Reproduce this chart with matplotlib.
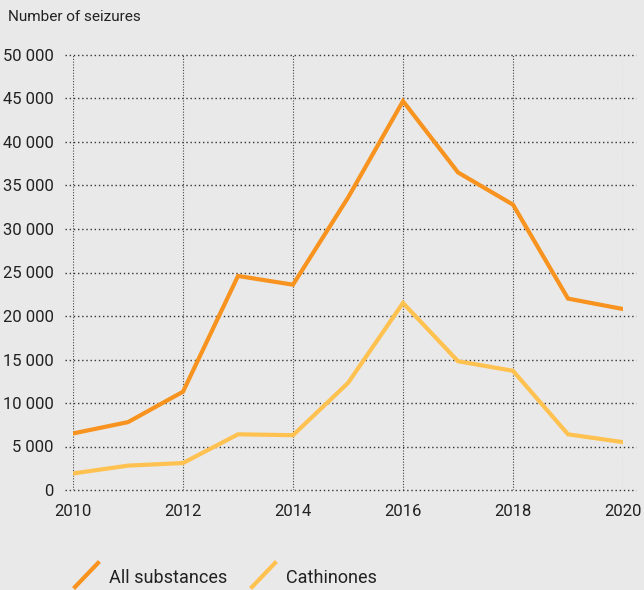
import matplotlib
matplotlib.use("Agg")
import matplotlib.pyplot as plt
from matplotlib.lines import Line2D

years = [2010, 2011, 2012, 2013, 2014, 2015, 2016, 2017, 2018, 2019, 2020]
all_substances = [6500, 7800, 11300, 24600, 23600, 33600, 44700, 36500, 32800, 22000, 20800]
cathinones = [1900, 2800, 3100, 6400, 6300, 12300, 21500, 14800, 13700, 6400, 5500]
series_labels = ["All substances", "Cathinones"]
series_colors = ["#f7931e", "#ffc150"]
y_ticks = [0, 5000, 10000, 15000, 20000, 25000, 30000, 35000, 40000, 45000, 50000]
x_ticks = [2010, 2012, 2014, 2016, 2018, 2020]
y_title = "Number of seizures"

plt.rcParams['font.family'] = ['Roboto', 'DejaVu Sans']
bg = "#e9e9e9"
txt = "#222222"

fig = plt.figure(figsize=(6.44, 5.90), dpi=100, facecolor=bg)
ax = fig.add_axes([73/644, 1-490/590, 550/644, 435/590])
ax.set_facecolor(bg)
for s in ax.spines.values():
    s.set_visible(False)

ax.set_xlim(2010, 2020)
ax.set_ylim(0, 50000)

# horizontal gridlines, extending slightly beyond plot
ax.hlines(y_ticks, -0.015, 1.024, transform=ax.get_yaxis_transform(),
          colors="#333333", linestyles=(0, (1, 2)), linewidth=1.0, clip_on=False, zorder=1)
# vertical gridlines
ax.vlines(x_ticks, 0, 50000, colors="#444444", linestyles=(0, (1, 1.5)), linewidth=0.8, zorder=1)

ax.plot(years, all_substances, color=series_colors[0], lw=3.0, solid_joinstyle="miter", zorder=3)
ax.plot(years, cathinones, color=series_colors[1], lw=3.0, solid_joinstyle="miter", zorder=3)

ax.set_yticks(y_ticks)
ax.set_yticklabels([f"{v:,}".replace(",", " ") for v in y_ticks])
ax.set_xticks(x_ticks)
ax.set_xticklabels([str(v) for v in x_ticks])
ax.tick_params(axis="both", length=0, labelsize=12, colors=txt)
ax.tick_params(axis="y", pad=14)
ax.tick_params(axis="x", pad=10)

fig.text(8/644, 1-17/590, y_title, fontsize=11, color=txt, va="center", ha="left")

# legend with diagonal line handles
leg_x = [75/644, 252/644]
for i, (lab, col) in enumerate(zip(series_labels, series_colors)):
    x0 = leg_x[i]
    fig.add_artist(Line2D([x0, x0 + 23/644], [1-587/590, 1-563/590],
                          color=col, lw=3.0, transform=fig.transFigure))
    fig.text(x0 + 34/644, 1-578/590, lab, fontsize=13, color=txt, va="center", ha="left")

fig.savefig("out.png", dpi=100, facecolor=bg)
